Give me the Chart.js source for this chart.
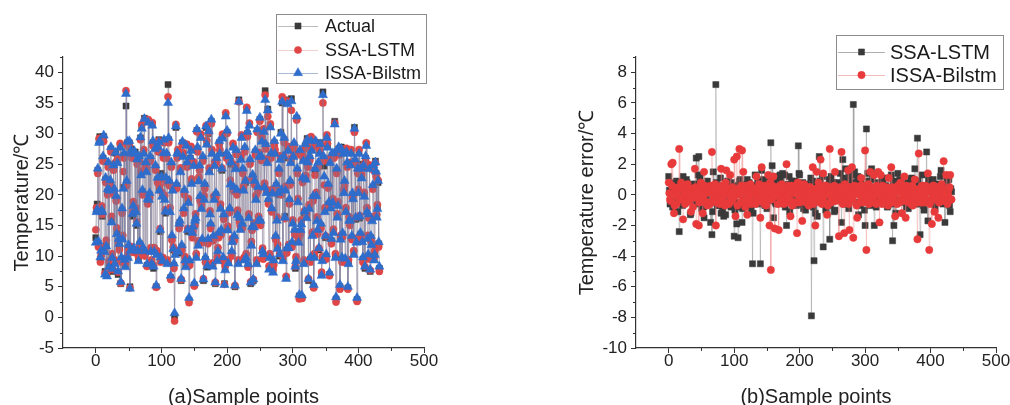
<!DOCTYPE html>
<html>
<head>
<meta charset="utf-8">
<script src="https://cdn.jsdelivr.net/npm/chart.js@4.4.1/dist/chart.umd.min.js"></script>
<style>
  html, body { margin: 0; padding: 0; background: #fff; }
  .panel { position: absolute; top: 0; width: 505px; height: 405px; }
  #left { left: 0; }
  #right { left: 505px; }
</style>
</head>
<body>
<div class="panel" id="left"><canvas id="chartA"></canvas></div>
<div class="panel" id="right"><canvas id="chartB"></canvas></div>
<script>
// sample index of each plotted point
const samplePoints = [
  0, 1, 2, 3, 4, 5, 6, 7, 8, 9, 10, 11, 12, 13, 14, 15, 16, 17, 18, 19,
  20, 21, 22, 23, 24, 25, 26, 27, 28, 29, 30, 31, 32, 33, 34, 35, 36, 37, 38, 39,
  40, 41, 42, 43, 44, 45, 46, 47, 48, 49, 50, 51, 52, 53, 54, 55, 56, 57, 58, 59,
  60, 61, 62, 63, 64, 65, 66, 67, 68, 69, 70, 71, 72, 73, 74, 75, 76, 77, 78, 79,
  80, 81, 82, 83, 84, 85, 86, 87, 88, 89, 90, 91, 92, 93, 94, 95, 96, 97, 98, 99,
  100, 101, 102, 103, 104, 105, 106, 107, 108, 109, 110, 111, 112, 113, 114, 115, 116, 117, 118, 119,
  120, 121, 122, 123, 124, 125, 126, 127, 128, 129, 130, 131, 132, 133, 134, 135, 136, 137, 138, 139,
  140, 141, 142, 143, 144, 145, 146, 147, 148, 149, 150, 151, 152, 153, 154, 155, 156, 157, 158, 159,
  160, 161, 162, 163, 164, 165, 166, 167, 168, 169, 170, 171, 172, 173, 174, 175, 176, 177, 178, 179,
  180, 181, 182, 183, 184, 185, 186, 187, 188, 189, 190, 191, 192, 193, 194, 195, 196, 197, 198, 199,
  200, 201, 202, 203, 204, 205, 206, 207, 208, 209, 210, 211, 212, 213, 214, 215, 216, 217, 218, 219,
  220, 221, 222, 223, 224, 225, 226, 227, 228, 229, 230, 231, 232, 233, 234, 235, 236, 237, 238, 239,
  240, 241, 242, 243, 244, 245, 246, 247, 248, 249, 250, 251, 252, 253, 254, 255, 256, 257, 258, 259,
  260, 261, 262, 263, 264, 265, 266, 267, 268, 269, 270, 271, 272, 273, 274, 275, 276, 277, 278, 279,
  280, 281, 282, 283, 284, 285, 286, 287, 288, 289, 290, 291, 292, 293, 294, 295, 296, 297, 298, 299,
  300, 301, 302, 303, 304, 305, 306, 307, 308, 309, 310, 311, 312, 313, 314, 315, 316, 317, 318, 319,
  320, 321, 322, 323, 324, 325, 326, 327, 328, 329, 330, 331, 332, 333, 334, 335, 336, 337, 338, 339,
  340, 341, 342, 343, 344, 345, 346, 347, 348, 349, 350, 351, 352, 353, 354, 355, 356, 357, 358, 359,
  360, 361, 362, 363, 364, 365, 366, 367, 368, 369, 370, 371, 372, 373, 374, 375, 376, 377, 378, 379,
  380, 381, 382, 383, 384, 385, 386, 387, 388, 389, 390, 391, 392, 393, 394, 395, 396, 397, 398, 399,
  400, 401, 402, 403, 404, 405, 406, 407, 408, 409, 410, 411, 412, 413, 414, 415, 416, 417, 418, 419,
  420, 421, 422, 423, 424, 425, 426, 427, 428, 429, 430, 431, 432
];

// (a) temperatures
const actualTemp = [
  13, 17.5, 18.5, 24, 12, 28.8, 29.5, 9.5, 10.5, 17.8, 16.5, 26, 29.5, 11, 7.5, 22.5, 12, 7, 20.5, 25,
  8.5, 21, 22, 27.5, 16, 10, 7.5, 24.5, 20.5, 9, 26.8, 19.5, 14, 25.5, 7, 12.5, 11.5, 28, 5.5, 9.5,
  17.5, 13, 21.2, 26.5, 9, 8.5, 34.5, 22, 28.5, 10, 11.5, 28.5, 5, 11.2, 27.5, 26.5, 16.5, 18.5, 11, 26.8,
  27, 17.5, 15, 25.5, 10.5, 9.5, 26, 12, 29.3, 23.5, 31, 20.5, 11, 27, 32.5, 10.5, 25, 24, 8.5, 19,
  32, 19.5, 20, 26, 11, 9, 31.5, 28.5, 8, 11, 27.8, 24.5, 5, 10.5, 22.5, 27.5, 29, 21, 14, 9.5,
  23.5, 20, 9.5, 26.5, 28.8, 19.5, 17, 22.5, 26.5, 9, 38, 29, 22, 17.5, 6.5, 25, 13, 21, 11, 8.5,
  0.2, 10.5, 31, 21.5, 26.5, 27, 10.5, 15, 15.5, 24, 6, 11.5, 28.5, 26.5, 17.5, 20.5, 9.5, 8.5, 28.2, 25,
  14, 19, 2.8, 9, 26, 27.5, 22, 13.5, 14.5, 25, 5.3, 15.5, 16.5, 10, 30.5, 27.5, 12, 22.5, 24.5, 19.5,
  29.5, 18, 12.5, 26, 6, 19.5, 21.5, 9.5, 31, 28.5, 8.2, 12.5, 30, 24, 17, 15, 32, 27, 8.5, 13,
  19.5, 25, 5.5, 20, 25.8, 9.5, 11, 13.5, 28.5, 27, 18, 14, 24, 29.5, 9.5, 16.5, 5.5, 8, 33, 26.5,
  30.2, 14.5, 9, 26, 17.5, 22, 25, 10.5, 12.5, 28, 21, 13, 5, 24.5, 27, 20.5, 17, 9, 35.5, 16,
  14.5, 26, 29.5, 15, 24, 21, 9.5, 27.5, 22, 10, 34, 30, 8.5, 16.5, 31.5, 25.5, 5.5, 12, 14.5, 23,
  6, 15, 22, 27, 19.5, 9, 30.5, 21, 16, 26.5, 32.3, 15.5, 26, 29, 11, 10, 30.5, 21.5, 37, 28,
  20.5, 25.5, 34, 19, 8, 10, 31.2, 26.5, 17.5, 20.5, 7.5, 9, 28.5, 27, 13, 21.5, 16, 11.5, 20, 24,
  10, 26, 30.2, 20.5, 35, 9.5, 26, 29, 16.5, 21, 6.5, 11, 35.5, 27.5, 11.5, 19, 22, 25.5, 35.7, 12,
  15.5, 26.5, 28.2, 14, 8, 9.5, 32.5, 24, 19, 12.5, 3.5, 27, 14, 15.5, 3.2, 22.5, 25.8, 9, 17, 28,
  22.8, 16.5, 29.2, 25, 6, 18, 26, 9.5, 29.2, 27.5, 13.5, 19.5, 5, 10, 24, 28.5, 20, 16, 14, 25,
  11, 27, 28.5, 15, 7, 9.5, 36.8, 26, 24.7, 17.5, 13, 10, 29.5, 28, 21.5, 18.5, 7, 25.5, 18, 12.5,
  26.5, 19, 14, 26.5, 32, 10, 3, 24, 16.5, 18.5, 27.5, 27, 5, 13, 27.8, 9.5, 13.5, 27, 20.5, 22,
  9.3, 17.5, 27.3, 25, 4.8, 9, 16, 15.5, 25, 27, 13, 20, 19.5, 10.5, 31, 25.5, 16, 12.5, 2.9, 24,
  20.5, 27, 16.2, 13.5, 25, 23, 12.5, 9.5, 24.5, 20, 8, 26, 28.3, 17.5, 13, 10, 16.5, 24.5, 7.5, 13,
  12, 16, 21.3, 24.5, 9.5, 10.5, 25.5, 23.5, 16.5, 18, 22, 12, 8
];

const ssaLstmTemp = [
  14.3, 17.9, 17.8, 23.5, 11.5, 29.2, 29.2, 9, 10, 18.2, 16.8, 25.5, 28.7, 11.4, 7.2, 22, 12.6, 7.4, 20, 24.5,
  9.2, 21.4, 21.4, 27, 16.5, 10.4, 7.8, 24, 20, 9.4, 25.3, 19, 14.6, 25.9, 7.4, 12, 11, 28.4, 5.6, 9,
  17, 13.4, 23.8, 26, 9.6, 8.9, 37, 21.5, 28, 10.4, 11.2, 28, 4.8, 11.6, 27, 26, 17.2, 18.9, 10.6, 26.3,
  26.4, 17.9, 15.6, 25, 11, 9.9, 25.5, 11.5, 29, 23.9, 31.5, 20, 10.8, 27.4, 32.2, 10, 24.6, 24.4, 8.3, 18.5,
  32.3, 19.9, 19.5, 25.5, 11.4, 9.4, 31.8, 28, 8.5, 11.4, 28.2, 24, 4.9, 10.9, 22, 27, 28.8, 21.4, 14.5, 9,
  22.6, 20.4, 9.8, 26, 28.5, 19.9, 17.6, 22, 26, 9.4, 36, 28.5, 21.5, 17.9, 6.2, 24.5, 12.6, 21.4, 11.5, 8,
  -0.6, 10.9, 31.5, 21, 26, 27.4, 10.9, 14.5, 15, 24.4, 6.2, 11, 28.2, 26.9, 17, 20, 9.9, 8.9, 28.3, 24.5,
  14.5, 19.4, 2.4, 8.5, 25.5, 27.9, 22.6, 13, 14, 25.4, 5.1, 15, 16.9, 10.4, 30.3, 27, 12.5, 22.9, 24, 19,
  29.9, 18.4, 12.2, 25.5, 6.3, 19.9, 21, 9, 31.3, 28.9, 8.7, 12, 30.2, 24.4, 17.4, 14.5, 31.6, 27.4, 8.9, 12.5,
  19.8, 25.4, 5.7, 19.5, 25.3, 9.9, 11.4, 13, 28.2, 27.4, 18.5, 13.5, 24.4, 29.9, 9.2, 16, 5.4, 8.4, 33.4, 26,
  30, 14.9, 9.4, 25.5, 17.1, 22.4, 25.5, 10, 12.9, 28.4, 20.6, 12.5, 5.2, 24.9, 26.6, 20, 17.5, 9.4, 35.2, 15.5,
  14.9, 26.4, 29.8, 14.5, 23.5, 21.4, 9.8, 27, 22.4, 10.4, 34.3, 29.5, 8.2, 16.9, 31.7, 25, 5.8, 12.4, 14.2, 22.5,
  6.2, 15.4, 21.6, 26.5, 19.9, 9.4, 30.2, 20.5, 16.5, 26.9, 32, 15, 25.6, 29.4, 11.3, 9.5, 30.8, 21.9, 36.3, 27.5,
  20.9, 25.9, 32.8, 18.5, 8.4, 10.4, 31.6, 26, 17.2, 20.9, 7.8, 8.5, 28, 27.4, 12.7, 21, 16.4, 11.9, 20.3, 23.5,
  10.4, 26.4, 26, 20, 36, 9.9, 26.4, 28.5, 16.1, 21.4, 6.7, 10.5, 35.3, 27.9, 11.9, 18.5, 21.6, 25.9, 33.8, 11.5,
  15.9, 26.9, 27.9, 13.5, 8.3, 9.9, 32.2, 23.5, 19.4, 12.9, 3, 26.5, 13.6, 15.9, 3.1, 22, 26.3, 9.4, 17.4, 27.5,
  23.2, 16.9, 28.8, 24.5, 6.3, 18.4, 25.6, 9, 29.5, 27.9, 13.9, 19, 4.8, 10.4, 23.2, 28, 20.4, 16.4, 13.6, 24.5,
  11.3, 27.4, 28.2, 14.5, 7.4, 9.9, 35, 25.5, 21.6, 17.9, 13.3, 9.5, 29.8, 28.4, 21.1, 18, 6.8, 25.9, 18.4, 12,
  26.1, 19.4, 14.4, 26, 31.7, 10.4, 2.5, 23.5, 16.9, 18.9, 27.2, 26.5, 4.6, 13.4, 27.5, 9, 13.1, 27.4, 20.9, 21.5,
  9, 17.9, 27.6, 24.5, 4.6, 9.4, 16.4, 15, 25.3, 27.4, 12.7, 19.5, 19.9, 10.9, 30.2, 25, 16.3, 12.9, 2.6, 23.5,
  20.9, 27.4, 16.6, 13, 24.6, 23.4, 12.9, 9, 24.8, 20.4, 8.3, 25.5, 28.5, 17.9, 13.4, 9.5, 16.2, 24.9, 7.7, 12.5,
  12.4, 16.4, 20.9, 24, 9.8, 10.9, 25.2, 23, 16.8, 18.4, 22.4, 11.5, 7.5
];

const issaBilstmTemp = [
  12.2, 17.2, 17.6, 24.3, 12.4, 28.5, 28.8, 9.8, 10.9, 17.5, 17.2, 26.3, 29.7, 10.7, 7, 22.8, 11.6, 6.7, 20.9, 25.3,
  8.2, 20.7, 22.4, 27.8, 15.5, 9.7, 7.9, 24.8, 21, 8.7, 26.9, 19.8, 13.6, 25.2, 7.5, 12.8, 12, 27.7, 5.8, 9.8,
  17.8, 12.7, 21, 26.8, 9.4, 8.2, 36.5, 22.3, 28.7, 9.7, 11.8, 28.8, 4.7, 10.9, 27.3, 26.8, 16.9, 18.2, 11.3, 27.1,
  26.7, 17.2, 15.3, 25.8, 10.8, 9.2, 26.3, 12.3, 29.4, 23.2, 30.8, 20.8, 11.4, 26.7, 32.4, 10.8, 25.3, 23.7, 8.7, 19.3,
  31.8, 19.2, 20.3, 26.3, 10.7, 8.7, 31.3, 28.8, 8.3, 10.7, 27.5, 24.8, 5.2, 10.2, 22.8, 27.8, 28.6, 20.7, 14.3, 9.8,
  23, 19.7, 9.2, 26.8, 29, 19.2, 17.3, 22.8, 26.8, 8.7, 35, 29.3, 22.3, 17.2, 6.8, 25.3, 13.4, 20.7, 11.2, 8.8,
  0.7, 10.2, 31.2, 21.8, 26.8, 26.7, 10.7, 15.3, 15.8, 23.7, 6.3, 11.8, 28.7, 26.2, 17.8, 20.8, 9.3, 8.2, 28, 25.3,
  14.3, 18.7, 3.2, 9.3, 26.2, 27.2, 21.8, 13.8, 14.8, 24.7, 5.6, 15.8, 16.2, 9.7, 30.7, 27.8, 11.7, 22.2, 24.8, 19.8,
  29.3, 17.7, 12.8, 26.3, 6.2, 19.2, 21.8, 9.8, 31.2, 28.2, 8.4, 12.8, 30.4, 23.7, 16.8, 15.3, 32.3, 26.7, 8.3, 13.3,
  19.2, 24.7, 5.7, 20.3, 26, 9.2, 10.8, 13.8, 28.8, 26.7, 17.7, 14.3, 24.3, 29.2, 9.8, 16.8, 5.3, 7.7, 32.8, 26.8,
  30.5, 14.2, 8.8, 26.3, 17.8, 21.7, 25.3, 10.8, 12.3, 27.7, 21.3, 13.3, 5.2, 24.2, 27.3, 20.8, 16.7, 8.7, 35.2, 16.3,
  14.3, 25.7, 29.3, 15.3, 24.3, 20.7, 9.3, 27.8, 22.3, 9.7, 33.7, 30.3, 8.7, 16.2, 31.3, 25.8, 5.7, 11.7, 14.8, 23.3,
  6.2, 14.7, 22.3, 27.3, 19.2, 8.7, 30.7, 21.3, 15.8, 26.2, 32.6, 15.8, 26.3, 28.7, 10.8, 10.3, 30.3, 21.2, 35.5, 28.3,
  20.3, 25.2, 33.8, 19.3, 7.8, 9.7, 31, 26.8, 17.8, 20.2, 7.3, 9.3, 28.8, 26.7, 13.3, 21.8, 15.8, 11.2, 20.3, 24.3,
  10.3, 25.7, 30, 20.8, 35.2, 9.2, 26.3, 29.3, 16.3, 20.7, 6.3, 11.3, 34.8, 27.2, 11.3, 19.3, 22.3, 25.2, 35.3, 12.3,
  15.3, 26.2, 28.5, 14.3, 8.3, 9.2, 32.8, 24.3, 18.8, 12.2, 3.7, 27.3, 14.3, 15.2, 3.6, 22.8, 25.5, 8.7, 17.3, 28.3,
  22.5, 16.2, 29, 25.3, 6.3, 17.7, 26.3, 9.8, 28.8, 27.2, 13.3, 19.8, 5.3, 9.7, 24.3, 28.8, 19.8, 15.7, 14.3, 25.3,
  11.3, 26.7, 28.3, 15.3, 6.8, 9.2, 36.3, 26.3, 23, 17.2, 13.3, 10.3, 29.3, 27.7, 21.8, 18.8, 7.3, 25.2, 17.8, 12.8,
  26.8, 18.7, 13.8, 26.8, 31.5, 9.7, 3.3, 24.3, 16.3, 18.2, 27.8, 27.3, 5.3, 12.7, 27.5, 9.8, 13.8, 26.7, 20.3, 22.3,
  9.6, 17.2, 27, 25.3, 5, 8.7, 15.8, 15.8, 24.8, 26.7, 13.3, 20.3, 19.3, 10.2, 30.8, 25.8, 16.3, 12.2, 3.2, 24.3,
  20.3, 26.7, 16.5, 13.8, 24.3, 22.7, 12.3, 9.8, 24.8, 19.7, 8.3, 26.3, 28, 17.2, 12.8, 10.3, 16.8, 24.2, 7.8, 13.3,
  11.8, 15.7, 21.6, 24.8, 9.3, 10.2, 25.3, 23.8, 16.3, 17.7, 22.3, 12.3, 8.3
];

// (b) prediction errors
const ssaLstmError = [
  1.2, 0.3, -0.6, -0.5, 0.3, 0.8, -0.8, 0.1, 0.5, -0.9, -0.3, 0.4, 0.9, -0.2, -1.1, 0.6, -2.4, -0.4, 0.4, 0.2,
  -0.2, -0.7, 1.2, 0.5, 0.1, -0.1, -0.5, 1.0, 0.8, -0.3, -0.3, 0.2, 0.6, -1.3, -1.2, 0.4, 0.2, 0.7, -0.6, -0.2,
  0.7, 0.4, 2.4, -0.6, -0.4, 1.3, 2.5, -0.2, 1.1, 0.5, -0.9, 0.1, 0.3, -0.8, -1.5, 0.3, 0.5, -0.5, -0.2, 0.9,
  0.6, -0.3, -0.4, 0.6, -1.8, 0.2, -2.6, -1.1, 1.5, 0.4, 0.2, -0.5, 7.2, 0.8, -0.7, 0.1, 0.4, -0.7, -0.3, 1.1,
  -1.2, 0.2, -1.0, -0.4, -1.4, 0.6, 0.3, -1.3, -0.6, 0.3, 0.9, 0.9, -0.2, -0.1, 0.5, -0.8, 0.8, 0.5, -0.5, 0.2,
  -2.7, -1.0, 0.4, 0.6, -1.9, 0.2, -2.8, -0.5, 0.9, 1.0, -0.8, 0.3, -1.8, -0.9, 0.3, 0.4, -0.4, -0.3, 0.6, 0.7,
  1.0, -0.4, -0.7, 0.8, 0.2, -0.2, -1.0, 0.5, -4.5, -1.2, 0.5, 0.2, 1.3, 0.6, -0.3, -0.6, 0.8, 0.9, 0.1, -0.1,
  -4.5, 0.5, 1.6, -0.3, -0.6, 1.0, 0.7, -0.7, 0.2, 0.2, -0.9, 0.6, 1.2, -0.4, -0.4, 1.1, 3.4, -0.2, 1.9, 0.4,
  -1.5, 0.8, 0.4, -0.5, -0.6, 1.2, 1.1, 0.1, 0.3, -0.3, 1.3, 0.9, -0.2, 0.4, 1.4, -0.6, 0.6, 1.3, -0.8, 0.2,
  -2.0, -0.4, 0.5, 0.7, 1.2, -1.1, -0.3, 0.3, 0.9, 0.5, 0.2, -0.2, -0.5, 0.9, 0.8, -0.7, 0.1, 0.3, 3.2, 1.4,
  1.3, 0.2, -0.4, -0.6, 0.6, 0.8, -0.9, 0.4, 0.3, -1.0, 0.7, 0.1, -0.2, 0.6, 0.4, -0.3, -0.6, 1.1, -7.9, -0.5,
  0.9, -0.8, -4.3, 0.3, -1.2, 0.6, 0.5, -1.4, -0.3, 0.2, 2.5, 0.9, 0.8, -0.4, -0.5, 1.2, -3.4, -0.6, 0.3, 0.5,
  -1.0, 0.4, 0.6, -0.2, -0.4, 1.0, -2.9, -0.7, 1.2, 0.3, 0.2, 0.6, 0.8, -1.1, -1.0, 0.2, 0.4, 0.8, -0.3, -0.3,
  0.5, 0.7, 1.4, -0.4, -1.8, 0.2, 2.3, 1.1, 0.4, -0.6, 1.7, 0.5, -0.6, 0.1, 0.9, -0.9, 1.2, 0.4, 0.3, 1.3,
  1.3, -0.2, 5.9, 0.8, 1.5, 0.3, -0.5, -0.5, 0.8, 1.2, -1.3, 0.4, 0.2, -0.7, 1.0, 0.6, -0.4, 0.1, 0.6, -1.0,
  -2.0, 0.5, 4.3, -0.3, 1.4, 0.9, 0.2, 0.2, -0.7, -0.6, 1.7, 1.0, 0.3, -0.2, -2.0, 0.4, 0.5, -0.8, -0.2, 0.3,
  0.8, 0.6, -0.3, -0.5, 0.4, 0.2, 1.0, 0.8, -0.5, -0.3, 0.3, 1.1, 0.6, 0.4, -0.8, -0.7, 0.2, 0.3, 0.4, -0.2,
  1.3, -0.6, -3.0, 0.9, -2.0, 0.3, 0.5, -1.2, -0.4, 0.5, 1.4, 0.2, 0.9, 1.0, -0.3, -0.4, 0.6, 0.7, 0.2, -0.3,
  -0.5, 0.4, 0.8, -0.8, 0.3, 0.6, -0.9, 0.1, 0.5, -0.5, 1.0, 1.1, -0.2, 0.3, 0.4, -0.2, 1.7, 0.8, -0.6, -0.6,
  3.7, 0.9, 0.3, -0.3, -2.6, 0.5, -0.4, 1.3, 0.6, -0.7, -1.0, 0.2, 0.2, 0.6, 2.8, -0.4, -1.7, 1.0, 0.9, 0.3,
  0.6, -0.5, -0.3, 0.8, 1.0, 0.2, -0.6, -0.9, 0.4, 0.4, -0.2, 0.7, 0.7, -0.3, 0.5, 1.2, 1.6, 0.1, -0.4, -0.6,
  0.3, 0.5, -1.8, -0.4, 0.6, 0.9, -0.5, 0.2, 1.0, -0.7, -1.1, 0.4, 0.2
];

const issaBilstmError = [
  0.8, 0.1, -0.3, -0.4, 2.0, 0.6, 2.1, 0.0, -1.2, -0.7, 0.4, 0.2, -0.6, -0.1, 0.3, 0.5, 3.0, -0.3, -0.2, 0.8,
  0.5, -0.2, -1.6, 0.3, 0.2, -0.6, -0.4, 0.1, 0.6, 0.7, -0.3, -0.4, 0.4, 0.0, -1.1, 0.4, 0.1, -0.8, -0.2, 0.2,
  1.7, 0.5, -1.9, -0.1, 0.3, 0.3, -2.0, -0.5, 0.4, 0.8, 0.5, 0.0, -1.2, -0.3, 1.5, 0.6, -0.5, 0.1, 0.2, -0.7,
  -0.5, 0.2, 0.3, -0.6, 0.6, 0.4, 2.8, 0.1, -0.4, -0.2, 0.2, 0.7, -2.0, -0.5, 0.5, 0.0, 0.3, 0.3, -0.6, -0.1,
  1.7, 0.6, -0.3, -0.3, 0.5, 0.1, -0.7, 0.8, 1.6, -0.6, 0.4, 0.2, -0.6, 0.0, 1.3, -0.4, -0.4, 0.5, 0.3, -0.2,
  2.3, -0.1, -1.4, 0.4, 2.5, -0.7, 0.2, 0.3, 3.0, 0.0, -0.5, 0.6, 2.9, -0.4, 1.5, 0.2, -0.4, -0.8, 0.6, 0.1,
  -1.3, 0.3, 0.5, -0.2, 0.3, 0.7, -0.6, -0.5, 0.4, 0.1, -0.5, 0.4, 0.3, -0.6, 1.2, 0.0, -0.2, 0.5, 0.7, -0.3,
  -1.5, -0.4, 1.8, 0.2, 0.4, 0.0, -0.6, 0.6, 0.5, -0.7, -0.3, 0.3, 1.3, -0.1, -2.0, 0.8, -4.9, -0.3, 0.6, 0.1,
  1.2, 0.5, -2.2, -0.1, 0.5, 0.3, 0.3, -0.6, -2.3, 0.2, 0.6, 0.0, -0.4, 0.7, 0.2, -0.4, -0.6, 0.1, 0.3, -0.2,
  2.0, 0.0, -0.5, 0.6, 0.4, -0.3, -1.4, 0.2, 0.6, -0.7, 0.3, 0.4, -0.5, 0.1, 0.4, -0.5, -2.5, 0.8, 0.8, -0.1,
  -0.5, 0.3, 0.4, -0.4, -1.7, 0.1, 0.6, 0.7, 0.2, -0.2, -0.5, 0.0, 0.3, -0.6, -0.7, 0.5, 0.5, 0.2, -0.3, -0.3,
  1.8, -0.6, -0.4, 0.1, -2.0, 0.4, 1.5, -0.2, 0.4, 0.8, -0.3, -0.5, 2.3, 0.0, -0.6, 0.3, 1.4, -0.1, -0.5, 0.6,
  0.6, 0.2, -1.3, -0.7, 0.2, 0.0, 3.0, 0.5, -0.5, -0.3, 0.4, 0.1, -0.4, 0.6, 1.5, -0.4, -0.3, 0.3, 0.4, -0.1,
  -2.7, 0.4, 0.5, 0.0, 2.8, -0.5, -0.6, 0.2, -2.5, 0.7, 0.5, -0.2, -0.4, 0.1, 1.6, -0.6, -2.3, 0.5, 0.5, 0.0,
  1.8, -0.3, -2.8, 0.5, 0.6, 0.1, 0.3, -0.7, -1.5, 0.3, 0.4, 0.0, -0.5, 0.6, 1.1, -0.2, -0.3, -0.5, 0.6, 0.2,
  2.9, 0.1, -3.6, -0.3, 0.4, 0.7, -0.6, 0.0, 1.5, -0.4, -0.5, 0.5, 0.4, -0.1, 1.3, 0.3, -0.5, -0.6, 0.6, 0.2,
  1.5, 0.0, -1.8, 0.4, 1.3, -0.2, -0.6, 0.6, 0.4, -0.5, -0.3, 0.1, 0.5, 0.3, -0.2, -0.7, 1.1, 0.2, -0.5, -0.1,
  1.8, 0.5, -0.5, -0.2, 0.3, 0.0, -1.4, 0.4, 0.4, -0.6, 0.6, 0.2, -0.5, 0.7, 0.8, -0.3, -1.2, 0.1, 0.3, -0.4,
  1.2, 0.2, -1.5, 0.6, 0.5, -0.1, -0.3, -0.5, 0.4, 0.3, -0.6, 0.0, 0.6, -0.7, -0.4, 0.4, 1.0, 0.1, -0.4, -0.2,
  -2.9, -0.5, 2.7, 0.3, 0.4, 0.1, -0.5, 0.6, 0.3, -0.2, -0.5, 0.0, 0.6, 0.5, -0.4, -0.4, 1.4, 0.2, -3.6, -0.6,
  0.5, 0.4, -1.9, -0.1, 0.6, 0.6, -1.1, -0.3, 0.3, 0.0, 0.5, 0.2, -1.5, -0.5, 0.4, 0.3, -0.4, 0.7, 0.5, -0.2,
  2.2, 0.1, -0.4, -0.4, 1.3, 0.3, -0.6, 0.0, 0.4, 0.5, 1.3, -0.3, -0.3
];

// tick labels
const sampleTicks = [0, 100, 200, 300, 400, 500];
const tempTicks = [-5, 0, 5, 10, 15, 20, 25, 30, 35, 40];
const errorTicks = [-10, -8, -6, -4, -2, 0, 2, 4, 6, 8];

const FONT = '"Liberation Sans", Arial, sans-serif';
Chart.defaults.font.family = FONT;
Chart.defaults.color = '#222';

function pairs(values) {
  return samplePoints.map((x, i) => ({ x: x, y: values[i] }));
}

// short unlabeled ticks between the major ones
const minorTicks = {
  id: 'minorTicks',
  afterDraw(chart) {
    const ctx = chart.ctx;
    ctx.save();
    ctx.strokeStyle = '#333';
    ctx.lineWidth = 1;
    Object.values(chart.scales).forEach(s => {
      const step = s.options.minorStep;
      if (!step) return;
      for (let k = 1; s.min + k * step <= s.max + 1e-9; k++) {
        const v = s.min + k * step;
        const r = v / (2 * step);
        if (Math.abs(r - Math.round(r)) < 1e-6) continue;
        ctx.beginPath();
        if (s.isHorizontal()) {
          const px = Math.round(s.getPixelForValue(v)) + 0.5;
          ctx.moveTo(px, s.top);
          ctx.lineTo(px, s.top + 3);
        } else {
          const py = Math.round(s.getPixelForValue(v)) + 0.5;
          ctx.moveTo(s.right - 3, py);
          ctx.lineTo(s.right, py);
        }
        ctx.stroke();
      }
    });
    ctx.restore();
  }
};

// framed legend sitting over the top right corner
const boxLegend = {
  id: 'boxLegend',
  afterDraw(chart, args, o) {
    if (!o || !o.rows) return;
    const ctx = chart.ctx;
    ctx.save();
    ctx.fillStyle = '#fff';
    ctx.fillRect(o.x, o.y, o.w, o.h);
    ctx.strokeStyle = '#8c8c8c';
    ctx.lineWidth = 1;
    ctx.strokeRect(o.x + 0.5, o.y + 0.5, o.w, o.h);
    ctx.font = o.font;
    ctx.textBaseline = 'middle';
    chart.data.datasets.forEach((ds, i) => {
      const y = o.rows[i];
      ctx.strokeStyle = ds.legendLine;
      ctx.lineWidth = 1;
      ctx.beginPath();
      ctx.moveTo(o.lineStart, y + 0.5);
      ctx.lineTo(o.lineEnd, y + 0.5);
      ctx.stroke();
      ctx.fillStyle = ds.pointBackgroundColor;
      ctx.strokeStyle = ds.pointBorderColor;
      ctx.lineWidth = ds.pointBorderWidth;
      Chart.helpers.drawPoint(ctx, {
        pointStyle: ds.pointStyle, radius: ds.pointRadius,
        borderWidth: ds.pointBorderWidth, rotation: 0
      }, (o.lineStart + o.lineEnd) / 2, y);
      ctx.fillStyle = '#1a1a1a';
      ctx.fillText(ds.label, o.textX, y + 1);
    });
    ctx.restore();
  }
};

function xAxis(title) {
  return {
    type: 'linear', min: -50, max: 500,
    minorStep: 50,
    afterBuildTicks: s => { s.ticks = sampleTicks.map(v => ({ value: v })); },
    afterFit: s => { s.height = 57; },
    ticks: { font: { size: 17 }, color: '#222', padding: -2 },
    grid: { drawOnChartArea: false, drawTicks: true, tickLength: 5, color: '#333' },
    border: { display: true, color: '#333', width: 1.2 },
    title: { display: true, text: title, font: { size: 20 }, color: '#222', padding: { top: 0, bottom: -4 } }
  };
}

function yAxis(title, min, max, tickList, minor, width) {
  return {
    type: 'linear', min: min, max: max,
    minorStep: minor,
    afterBuildTicks: s => { s.ticks = tickList.map(v => ({ value: v })); },
    afterFit: s => { s.width = width; },
    ticks: { font: { size: 17 }, color: '#222', padding: 4 },
    grid: { drawOnChartArea: false, drawTicks: true, tickLength: 5, color: '#333' },
    border: { display: true, color: '#333', width: 1.2 },
    title: { display: true, text: title, font: { size: 20 }, color: '#222', padding: { top: 10, bottom: 0 } }
  };
}

function series(label, values, color, line, style, radius, order) {
  return {
    label: label,
    data: pairs(values),
    borderColor: line,
    borderWidth: 0.6,
    legendLine: line,
    pointStyle: style,
    pointRadius: radius,
    pointBackgroundColor: color,
    pointBorderColor: color,
    pointBorderWidth: 0.5,
    tension: 0,
    order: order
  };
}

new Chart(document.getElementById('chartA'), {
  type: 'line',
  data: {
    datasets: [
      series('Actual', actualTemp, '#3a3a3a', 'rgba(120,120,120,0.5)', 'rect', 4.3, 2),
      series('SSA-LSTM', ssaLstmTemp, '#e04646', 'rgba(215,120,120,0.35)', 'circle', 3.6, 1),
      series('ISSA-Bilstm', issaBilstmTemp, '#2f6dcc', 'rgba(100,130,175,0.55)', 'triangle', 5.3, 0)
    ]
  },
  options: {
    responsive: true,
    maintainAspectRatio: false,
    animation: false,
    layout: { padding: { left: 0, right: 81, top: 57, bottom: 0 } },
    scales: {
      x: xAxis('(a)Sample points'),
      y: yAxis('Temperature/℃', -5, 42.5, tempTicks, 2.5, 63)
    },
    plugins: {
      legend: { display: false },
      tooltip: { enabled: false },
      boxLegend: {
        x: 276, y: 14, w: 150, h: 69, rows: [26, 50, 73],
        lineStart: 278, lineEnd: 318, textX: 325, font: '18px ' + FONT
      }
    }
  },
  plugins: [minorTicks, boxLegend]
});

new Chart(document.getElementById('chartB'), {
  type: 'line',
  data: {
    datasets: [
      series('SSA-LSTM', ssaLstmError, '#3a3a3a', 'rgba(110,110,110,0.55)', 'rect', 4.3, 1),
      series('ISSA-Bilstm', issaBilstmError, '#e83a3a', 'rgba(235,120,120,0.5)', 'circle', 3.7, 0)
    ]
  },
  options: {
    responsive: true,
    maintainAspectRatio: false,
    animation: false,
    layout: { padding: { left: 60, right: 14, top: 57, bottom: 0 } },
    scales: {
      x: xAxis('(b)Sample points'),
      y: yAxis('Temperature error/℃', -10, 9, errorTicks, 1, 71)
    },
    plugins: {
      legend: { display: false },
      tooltip: { enabled: false },
      boxLegend: {
        x: 331, y: 35, w: 167, h: 54, rows: [52, 75],
        lineStart: 333, lineEnd: 380, textX: 385, font: '20px ' + FONT
      }
    }
  },
  plugins: [minorTicks, boxLegend]
});
</script>
</body>
</html>
